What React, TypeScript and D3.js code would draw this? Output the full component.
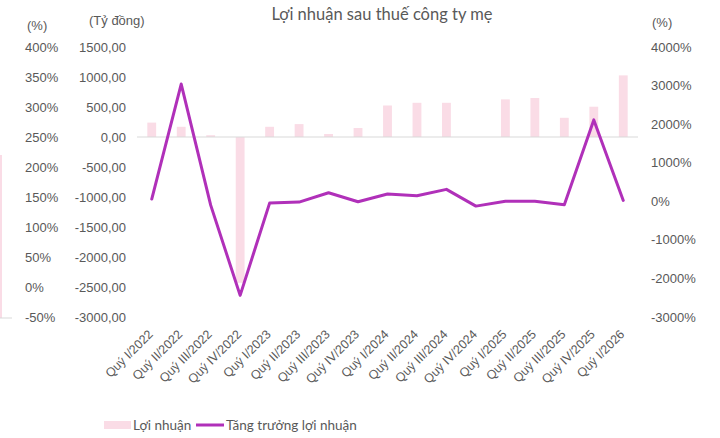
import * as React from 'react';
import {scaleBand, scaleLinear, line} from 'd3';

const quarters = [
  'Quý I/2022', 'Quý II/2022', 'Quý III/2022', 'Quý IV/2022',
  'Quý I/2023', 'Quý II/2023', 'Quý III/2023', 'Quý IV/2023',
  'Quý I/2024', 'Quý II/2024', 'Quý III/2024', 'Quý IV/2024',
  'Quý I/2025', 'Quý II/2025', 'Quý III/2025', 'Quý IV/2025',
  'Quý I/2026',
];
// Lợi nhuận (tỷ đồng)
const profit = [240, 170, 30, -2430, 170, 215, 50, 150, 525, 570, 570, 0, 627, 650, 320, 505, 1027];
// Tăng trưởng lợi nhuận (%)
const growth = [57, 3040, -100, -2440, -47, -20, 220, -13, 187, 143, 309, -125, 0, 0, -90, 2110, 23];

const leftTicks = [1500, 1000, 500, 0, -500, -1000, -1500, -2000, -2500, -3000];
const pctLeftTicks = [400, 350, 300, 250, 200, 150, 100, 50, 0, -50];
const rightTicks = [4000, 3000, 2000, 1000, 0, -1000, -2000, -3000];

const width = 720;
const height = 438;
const top = 47;
const bottom = 317;
const plotLeft = 137;
const plotRight = 638;

const barColor = '#fadce6';
const lineColor = '#b030b9';
const textColor = '#595959';
const tickFont = '"Liberation Sans", Arial, sans-serif';
const titleFont = 'Lato, "Noto Sans", sans-serif';

const xScale = scaleBand()
  .domain(quarters)
  .range([plotLeft, plotRight])
  .paddingInner(0.7)
  .paddingOuter(0.35);

const yLeft = scaleLinear().domain([-3000, 1500]).range([bottom, top]);
const yPctLeft = scaleLinear().domain([-50, 400]).range([bottom, top]);
const yRight = scaleLinear().domain([-3000, 4000]).range([bottom, top]);

const cx = (q: string) => (xScale(q) ?? 0) + xScale.bandwidth() / 2;

const growthLine = line<number>()
  .x((_, i) => cx(quarters[i]))
  .y(d => yRight(d));

const fmt = (v: number) => v.toFixed(2).replace('.', ',');

export default function App() {
  return (
    <svg width={width} height={height}
         style={{position: 'absolute', left: 0, top: 0, background: '#fff'}}>
      {/* stray edge from neighbouring chart */}
      <line x1={1} x2={1} y1={155} y2={318} stroke={barColor} strokeWidth={2} />
      <line x1={0} x2={12} y1={318} y2={318} stroke="#d9d9d9" />

      <text x={382} y={20} textAnchor="middle" fontFamily={titleFont}
            fontSize={16.5} fill={textColor}>Lợi nhuận sau thuế công ty mẹ</text>

      <g fontFamily={tickFont} fontSize={13} fill={textColor}>
        <text x={27} y={30}>(%)</text>
        <text x={89} y={25}>(Tỷ đồng)</text>
        <text x={652} y={27}>(%)</text>
        {pctLeftTicks.map(t => (
          <text key={'p' + t} x={25} y={yPctLeft(t)} dy="0.35em">{t}%</text>
        ))}
        {leftTicks.map(t => (
          <text key={'l' + t} x={126} y={yLeft(t)} dy="0.35em" textAnchor="end">{fmt(t)}</text>
        ))}
        {rightTicks.map(t => (
          <text key={'r' + t} x={651} y={yRight(t)} dy="0.35em">{t}%</text>
        ))}
      </g>

      {profit.map((v, i) => (
        <rect key={i}
              x={xScale(quarters[i])}
              y={yLeft(Math.max(0, v))}
              width={xScale.bandwidth()}
              height={Math.abs(yLeft(v) - yLeft(0))}
              fill={barColor} />
      ))}

      <line x1={plotLeft} x2={plotRight} y1={yLeft(0)} y2={yLeft(0)} stroke="#d9d9d9" strokeWidth={1} />

      <path d={growthLine(growth) ?? ''} fill="none" stroke={lineColor}
            strokeWidth={3} strokeLinejoin="round" strokeLinecap="round" />

      <g fontFamily={tickFont} fontSize={12.5} fill={textColor}>
        {quarters.map(q => (
          <text key={q} textAnchor="end"
                transform={`translate(${cx(q) + 2},${335}) rotate(-45)`}>{q}</text>
        ))}
      </g>

      <g fontFamily={titleFont} fontSize={13.5} fill={textColor}>
        <rect x={104} y={421} width={27} height={8} fill={barColor} />
        <text x={133} y={430}>Lợi nhuận</text>
        <line x1={196} x2={224} y1={425} y2={425} stroke={lineColor} strokeWidth={3} />
        <text x={226} y={430}>Tăng trưởng lợi nhuận</text>
      </g>
    </svg>
  );
}
